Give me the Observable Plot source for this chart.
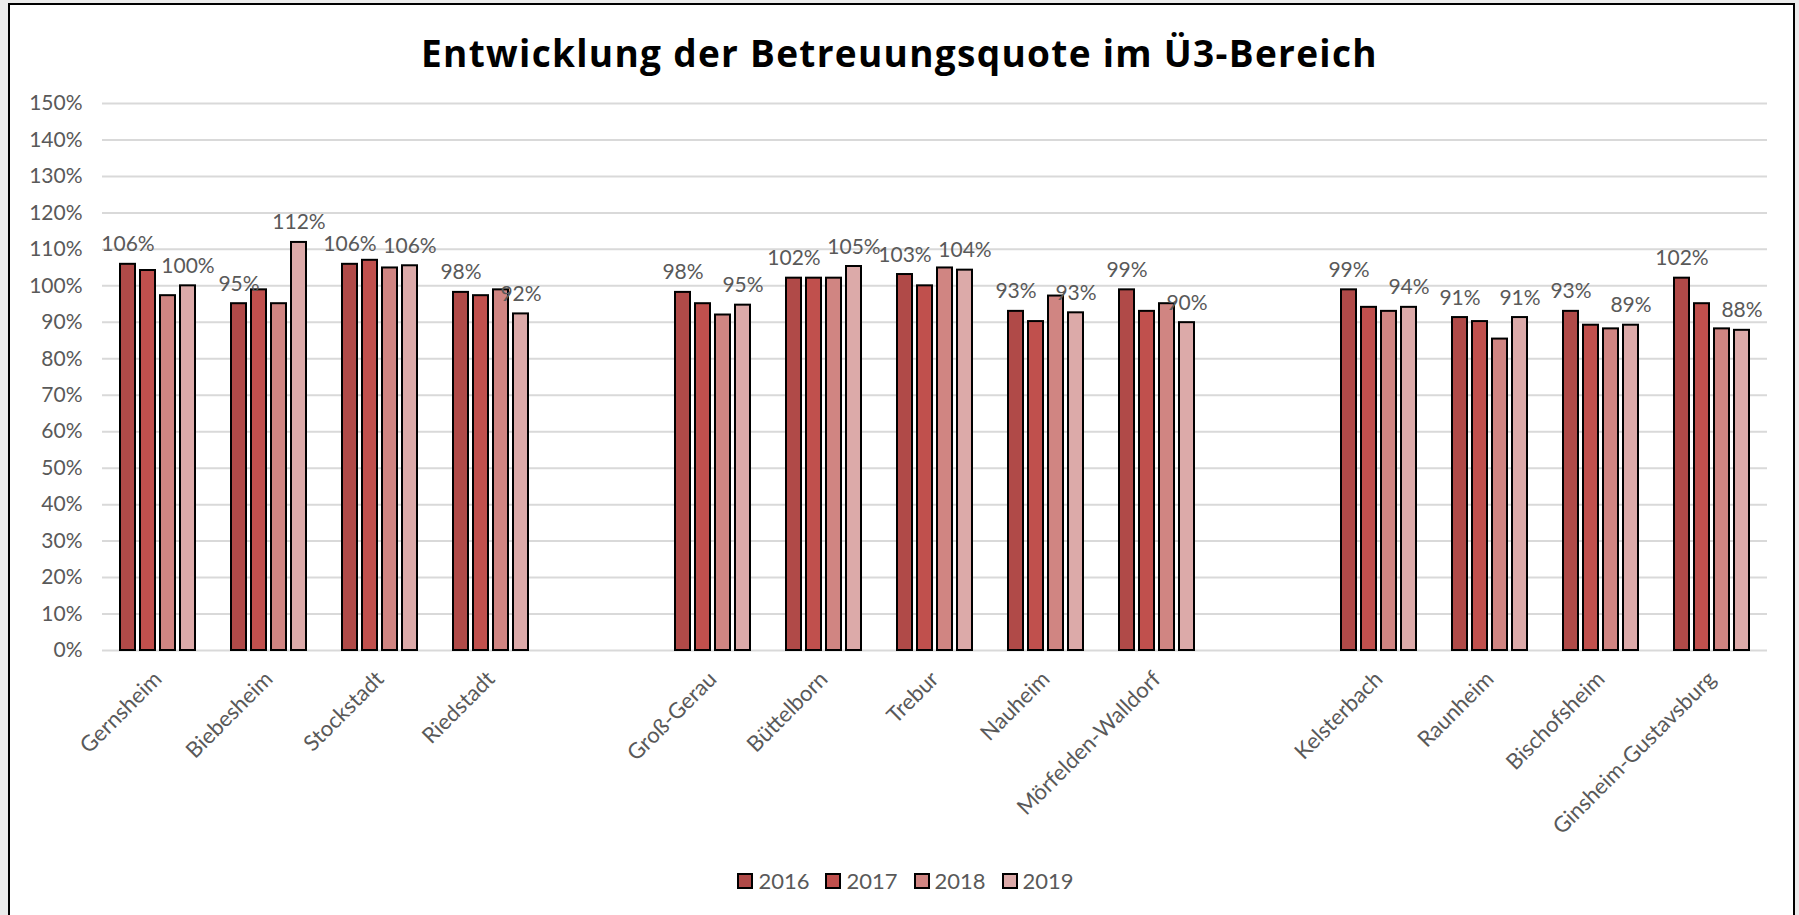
<!DOCTYPE html>
<html><head><meta charset="utf-8">
<script src="https://cdn.jsdelivr.net/npm/d3@7"></script>
<script src="https://cdn.jsdelivr.net/npm/@observablehq/plot@0.6"></script>
<style>
html,body{margin:0;padding:0;background:#ebebeb;overflow:hidden;}
body{font-family:Lato,"Open Sans",sans-serif;width:1799px;height:915px;position:relative;}
#frame{position:absolute;left:8px;top:3px;width:1787px;height:940px;background:#fff;border:2px solid #000;box-sizing:border-box;}
#title{position:absolute;left:0;top:34px;width:1799px;text-align:center;font-family:"Open Sans",sans-serif;font-weight:bold;font-size:37px;letter-spacing:1.3px;line-height:1;color:#000;}
#chart{position:absolute;left:0;top:80px;}
#legend{position:absolute;top:870px;left:0;width:1799px;display:flex;justify-content:center;align-items:center;font-size:22px;color:#595959;line-height:1;padding-left:12px;box-sizing:border-box;}
.item{display:flex;align-items:center;margin:0 8px;}
.sw{width:12px;height:12px;border:2px solid #000;margin-right:5px;}
</style></head>
<body>
<div id="frame"></div>
<div id="title">Entwicklung der Betreuungsquote im Ü3-Bereich</div>
<div id="chart"></div>
<div id="legend"></div>
<script>
const categories = ["Gernsheim","Biebesheim","Stockstadt","Riedstadt"," ","Groß-Gerau","Büttelborn","Trebur","Nauheim","Mörfelden-Walldorf","  ","Kelsterbach","Raunheim","Bischofsheim","Ginsheim-Gustavsburg"];
const years = ["2016","2017","2018","2019"];
const values2016 = [105.9, 95.1, 105.9, 98.2, null, 98.2, 102.1, 103.1, 93.0, 98.9, null, 98.9, 91.3, 93.0, 102.1];
const values2017 = [104.2, 98.9, 107.0, 97.3, null, 95.1, 102.1, 100.0, 90.2, 93.0, null, 94.1, 90.2, 89.2, 95.1];
const values2018 = [97.3, 95.1, 104.9, 98.9, null, 92.0, 102.1, 104.9, 97.2, 95.1, null, 93.0, 85.4, 88.2, 88.2];
const values2019 = [100.0, 111.9, 105.5, 92.3, null, 94.7, 105.3, 104.3, 92.6, 89.9, null, 94.1, 91.3, 89.2, 87.8];
const labelledYears = ["2016","2019"];
const yTicks = [0,10,20,30,40,50,60,70,80,90,100,110,120,130,140,150];
const colors = ["#b04a48","#c0504d","#d08582","#dcaaa9"];

const series = [values2016, values2017, values2018, values2019];
const rows = [];
categories.forEach((c, i) => years.forEach((y, j) => {
  const v = series[j][i];
  if (v != null) rows.push({cat: c, year: y, value: v});
}));
const gridRows = categories.flatMap(c => yTicks.map(t => ({cat: c, t})));

const chart = Plot.plot({
  width: 1799, height: 760,
  marginLeft: 99, marginRight: 30, marginTop: 23, marginBottom: 190,
  style: {fontFamily: "Lato, 'Open Sans', sans-serif", fontSize: "21px", color: "#595959", background: "transparent", overflow: "visible"},
  fx: {domain: categories, padding: 0, label: null},
  x: {domain: years, paddingInner: 0.25, paddingOuter: 0.85, axis: null},
  y: {domain: [0, 150], axis: null},
  color: {domain: years, range: colors},
  marks: [
    Plot.ruleY(gridRows, {fx: "cat", y: "t", stroke: "#d9d9d9", strokeWidth: 2}),
    Plot.barY(rows, {fx: "cat", x: "year", y: "value", fill: "year", stroke: "#000", strokeWidth: 2}),
    Plot.text(rows.filter(d => labelledYears.includes(d.year)), {fx: "cat", x: "year", y: "value", text: d => Math.round(d.value) + "%", dy: -13, lineAnchor: "bottom", fill: "#595959", fontSize: 21}),
    Plot.axisY({ticks: yTicks, tickFormat: d => d + "%", tickSize: 0, tickPadding: 20, fontSize: 21, label: null, fill: "#595959"}),
    Plot.axisFx({anchor: "bottom", tickRotate: -45, tickSize: 0, tickPadding: 25, tickFormat: d => d.trim(), fontSize: 22, label: null, fill: "#595959"})
  ]
});
document.getElementById("chart").appendChild(chart);

const legend = document.getElementById("legend");
years.forEach((y, i) => {
  const item = document.createElement("div");
  item.className = "item";
  const sw = document.createElement("span");
  sw.className = "sw";
  sw.style.background = colors[i];
  item.appendChild(sw);
  item.appendChild(document.createTextNode(y));
  legend.appendChild(item);
});
</script>
</body></html>
